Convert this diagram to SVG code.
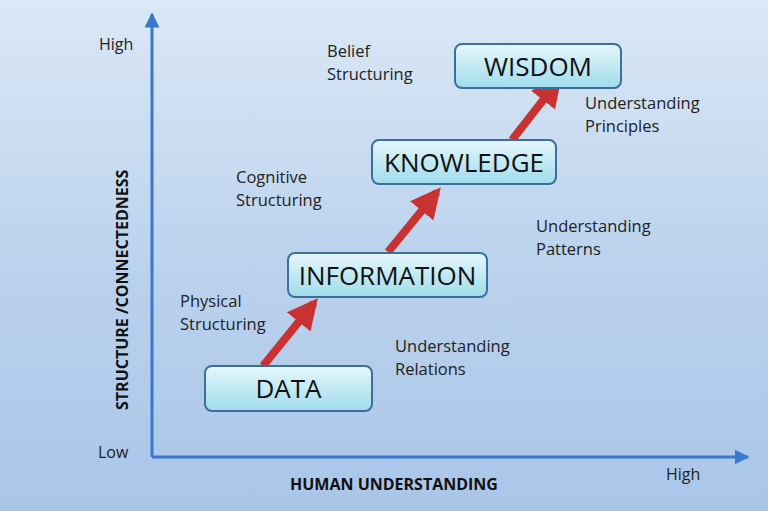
<svg xmlns="http://www.w3.org/2000/svg" width="768" height="511" viewBox="0 0 768 511">
<defs>
<linearGradient id="bg" x1="0" y1="0" x2="0" y2="1"><stop offset="0" stop-color="#dbe8f6"/><stop offset="0.5" stop-color="#bcd3ee"/><stop offset="1" stop-color="#a9c5e8"/></linearGradient>
<linearGradient id="box" x1="0" y1="0" x2="0" y2="1"><stop offset="0" stop-color="#e6f7fb"/><stop offset="1" stop-color="#9fdcec"/></linearGradient>
<marker id="ax" viewBox="0 0 10 10" refX="9" refY="5" markerWidth="5" markerHeight="5" orient="auto"><path d="M0,0 L10,5 L0,10 z" fill="#3a78cf"/></marker>
<marker id="ra" viewBox="0 0 10 10" refX="8" refY="5" markerWidth="3.8" markerHeight="3.8" orient="auto"><path d="M0,0 L10,5 L0,10 z" fill="#c93232"/></marker>
</defs>
<style>
.box{fill:url(#box);stroke:#3f6e9e;stroke-width:2}
.bt{font-family:"Open Sans",sans-serif;font-size:26px;fill:#111;text-anchor:middle}
.lb{font-family:"Open Sans",sans-serif;font-size:16.5px;fill:#222}
.ax{font-family:"Open Sans",sans-serif;font-size:16px;fill:#222}
.at{font-family:"Open Sans",sans-serif;font-size:16px;font-weight:bold;fill:#111}
.arr{stroke:#c93232;stroke-width:8;fill:none;marker-end:url(#ra)}
</style>
<rect width="768" height="511" fill="url(#bg)"/>
<g id="axes" stroke="#3a78cf" stroke-width="3" fill="none">
<line x1="152" y1="457" x2="152" y2="14" marker-end="url(#ax)"/>
<line x1="152" y1="457" x2="748" y2="457" marker-end="url(#ax)"/>
</g>
<g id="connectors">
<line class="arr" x1="263" y1="366" x2="314" y2="303"/>
<line class="arr" x1="388" y1="252" x2="437" y2="192"/>
<line class="arr" x1="512" y1="140" x2="558" y2="81"/>
</g>
<g id="data"><rect class="box" x="205" y="366" width="167" height="45" rx="7"/><text class="bt" x="288.5" y="398">DATA</text></g>
<g id="information"><rect class="box" x="288" y="253" width="199" height="44" rx="7"/><text class="bt" x="387.5" y="285">INFORMATION</text></g>
<g id="knowledge"><rect class="box" x="372" y="140" width="184" height="44" rx="7"/><text class="bt" x="464" y="172">KNOWLEDGE</text></g>
<g id="wisdom"><rect class="box" x="455" y="44" width="166" height="44" rx="7"/><text class="bt" x="538" y="76">WISDOM</text></g>
<g id="labels">
<text class="lb" x="327" y="57">Belief</text><text class="lb" x="327" y="80">Structuring</text>
<text class="lb" x="585" y="109">Understanding</text><text class="lb" x="585" y="132">Principles</text>
<text class="lb" x="236" y="183">Cognitive</text><text class="lb" x="236" y="206">Structuring</text>
<text class="lb" x="536" y="232">Understanding</text><text class="lb" x="536" y="255">Patterns</text>
<text class="lb" x="180" y="307">Physical</text><text class="lb" x="180" y="330">Structuring</text>
<text class="lb" x="395" y="352">Understanding</text><text class="lb" x="395" y="375">Relations</text>
<text class="ax" x="99" y="50">High</text>
<text class="ax" x="98" y="458">Low</text>
<text class="ax" x="666" y="480">High</text>
<text class="at" x="290" y="490">HUMAN UNDERSTANDING</text>
<text class="at" transform="translate(128,410) rotate(-90)">STRUCTURE /CONNECTEDNESS</text>
</g>
</svg>
